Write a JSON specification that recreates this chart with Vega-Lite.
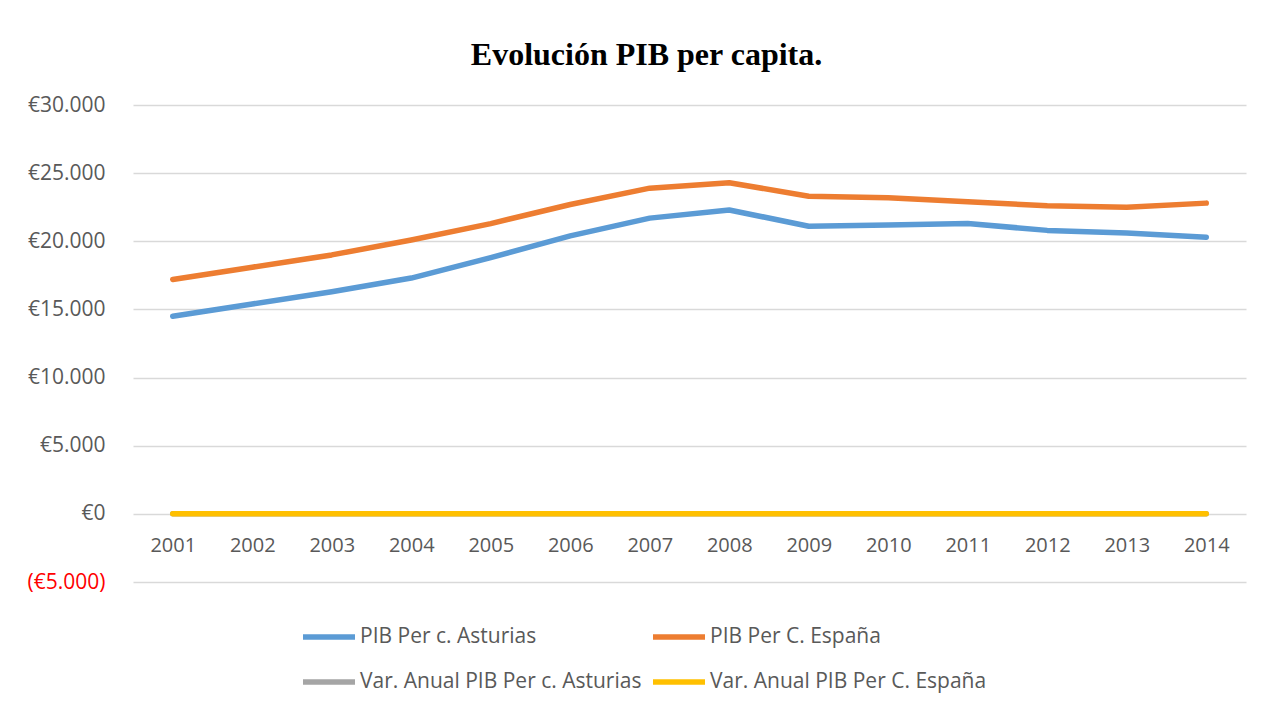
{
  "$schema": "https://vega.github.io/schema/vega-lite/v6.json",
  "autosize": {"type": "none"},
  "width": 1113,
  "height": 477,
  "padding": {"left": 133, "top": 105, "right": 16, "bottom": 125},
  "background": "white",
  "title": {
    "text": "Evolución PIB per capita.",
    "font": "Liberation Serif",
    "fontSize": 32,
    "fontWeight": "bold",
    "color": "#000000",
    "anchor": "middle",
    "dx": -43,
    "offset": 22
  },
  "config": {
    "view": {"stroke": null},
    "font": "Open Sans"
  },
  "data": {
    "values": [
      {"year": "2001", "serie": "PIB Per c. Asturias", "value": 14500},
      {"year": "2002", "serie": "PIB Per c. Asturias", "value": 15400},
      {"year": "2003", "serie": "PIB Per c. Asturias", "value": 16300},
      {"year": "2004", "serie": "PIB Per c. Asturias", "value": 17300},
      {"year": "2005", "serie": "PIB Per c. Asturias", "value": 18800},
      {"year": "2006", "serie": "PIB Per c. Asturias", "value": 20400},
      {"year": "2007", "serie": "PIB Per c. Asturias", "value": 21700},
      {"year": "2008", "serie": "PIB Per c. Asturias", "value": 22300},
      {"year": "2009", "serie": "PIB Per c. Asturias", "value": 21100},
      {"year": "2010", "serie": "PIB Per c. Asturias", "value": 21200},
      {"year": "2011", "serie": "PIB Per c. Asturias", "value": 21300},
      {"year": "2012", "serie": "PIB Per c. Asturias", "value": 20800},
      {"year": "2013", "serie": "PIB Per c. Asturias", "value": 20600},
      {"year": "2014", "serie": "PIB Per c. Asturias", "value": 20300},
      {"year": "2001", "serie": "PIB Per C. España", "value": 17200},
      {"year": "2002", "serie": "PIB Per C. España", "value": 18100},
      {"year": "2003", "serie": "PIB Per C. España", "value": 19000},
      {"year": "2004", "serie": "PIB Per C. España", "value": 20100},
      {"year": "2005", "serie": "PIB Per C. España", "value": 21300},
      {"year": "2006", "serie": "PIB Per C. España", "value": 22700},
      {"year": "2007", "serie": "PIB Per C. España", "value": 23900},
      {"year": "2008", "serie": "PIB Per C. España", "value": 24300},
      {"year": "2009", "serie": "PIB Per C. España", "value": 23300},
      {"year": "2010", "serie": "PIB Per C. España", "value": 23200},
      {"year": "2011", "serie": "PIB Per C. España", "value": 22900},
      {"year": "2012", "serie": "PIB Per C. España", "value": 22600},
      {"year": "2013", "serie": "PIB Per C. España", "value": 22500},
      {"year": "2014", "serie": "PIB Per C. España", "value": 22800},
      {"year": "2001", "serie": "Var. Anual PIB Per c. Asturias", "value": 0},
      {"year": "2002", "serie": "Var. Anual PIB Per c. Asturias", "value": 0},
      {"year": "2003", "serie": "Var. Anual PIB Per c. Asturias", "value": 0},
      {"year": "2004", "serie": "Var. Anual PIB Per c. Asturias", "value": 0},
      {"year": "2005", "serie": "Var. Anual PIB Per c. Asturias", "value": 0},
      {"year": "2006", "serie": "Var. Anual PIB Per c. Asturias", "value": 0},
      {"year": "2007", "serie": "Var. Anual PIB Per c. Asturias", "value": 0},
      {"year": "2008", "serie": "Var. Anual PIB Per c. Asturias", "value": 0},
      {"year": "2009", "serie": "Var. Anual PIB Per c. Asturias", "value": 0},
      {"year": "2010", "serie": "Var. Anual PIB Per c. Asturias", "value": 0},
      {"year": "2011", "serie": "Var. Anual PIB Per c. Asturias", "value": 0},
      {"year": "2012", "serie": "Var. Anual PIB Per c. Asturias", "value": 0},
      {"year": "2013", "serie": "Var. Anual PIB Per c. Asturias", "value": 0},
      {"year": "2014", "serie": "Var. Anual PIB Per c. Asturias", "value": 0},
      {"year": "2001", "serie": "Var. Anual PIB Per C. España", "value": 0},
      {"year": "2002", "serie": "Var. Anual PIB Per C. España", "value": 0},
      {"year": "2003", "serie": "Var. Anual PIB Per C. España", "value": 0},
      {"year": "2004", "serie": "Var. Anual PIB Per C. España", "value": 0},
      {"year": "2005", "serie": "Var. Anual PIB Per C. España", "value": 0},
      {"year": "2006", "serie": "Var. Anual PIB Per C. España", "value": 0},
      {"year": "2007", "serie": "Var. Anual PIB Per C. España", "value": 0},
      {"year": "2008", "serie": "Var. Anual PIB Per C. España", "value": 0},
      {"year": "2009", "serie": "Var. Anual PIB Per C. España", "value": 0},
      {"year": "2010", "serie": "Var. Anual PIB Per C. España", "value": 0},
      {"year": "2011", "serie": "Var. Anual PIB Per C. España", "value": 0},
      {"year": "2012", "serie": "Var. Anual PIB Per C. España", "value": 0},
      {"year": "2013", "serie": "Var. Anual PIB Per C. España", "value": 0},
      {"year": "2014", "serie": "Var. Anual PIB Per C. España", "value": 0}
    ]
  },
  "mark": {"type": "line", "strokeWidth": 5.5, "strokeCap": "round", "strokeJoin": "round"},
  "encoding": {
    "x": {
      "field": "year",
      "type": "ordinal",
      "scale": {"padding": 0.5},
      "axis": {
        "title": null,
        "labelAngle": 0,
        "ticks": false,
        "domain": false,
        "offset": -68,
        "labelPadding": 21,
        "labelFont": "Open Sans",
        "labelFontSize": 20,
        "labelColor": "#595959"
      }
    },
    "y": {
      "field": "value",
      "type": "quantitative",
      "scale": {"domain": [-5000, 30000], "nice": false, "zero": false},
      "axis": {
        "title": null,
        "values": [-5000, 0, 5000, 10000, 15000, 20000, 25000, 30000],
        "ticks": false,
        "domain": false,
        "grid": true,
        "gridColor": "#d9d9d9",
        "gridWidth": 1.5,
        "labelPadding": 28,
        "labelFont": "Open Sans",
        "labelFontSize": 21,
        "labelColor": {"condition": {"test": "datum.value < 0", "value": "#ff0000"}, "value": "#595959"},
        "labelExpr": "datum.value < 0 ? '(€' + replace(format(-datum.value, ','), ',', '.') + ')' : '€' + replace(format(datum.value, ','), ',', '.')"
      }
    },
    "color": {
      "field": "serie",
      "type": "nominal",
      "scale": {
        "domain": ["PIB Per c. Asturias", "Var. Anual PIB Per c. Asturias", "PIB Per C. España", "Var. Anual PIB Per C. España"],
        "range": ["#5b9bd5", "#a5a5a5", "#ed7d31", "#ffc000"]
      },
      "legend": {
        "title": null,
        "orient": "none",
        "legendX": 167,
        "legendY": 503,
        "columns": 2,
        "columnPadding": 0,
        "rowPadding": 5,
        "symbolType": "stroke",
        "symbolSize": 2704,
        "symbolStrokeWidth": 5.5,
        "labelOffset": 2,
        "labelFont": "Open Sans",
        "labelFontSize": 21,
        "labelColor": "#595959",
        "labelLimit": 400
      }
    }
  }
}
